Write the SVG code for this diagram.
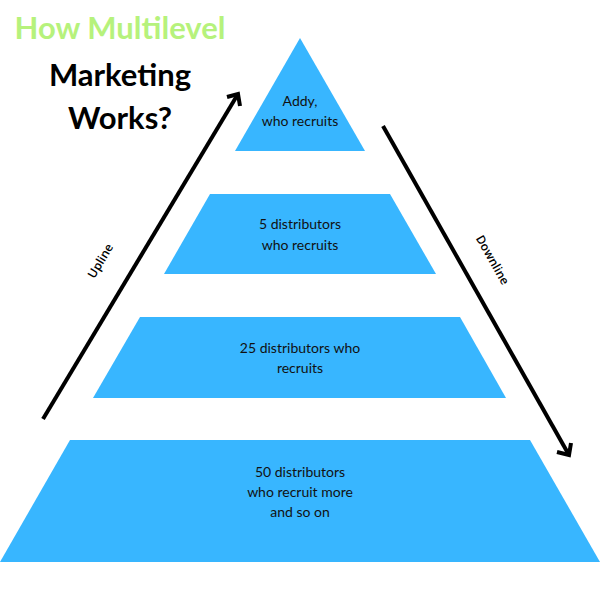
<svg xmlns="http://www.w3.org/2000/svg" width="600" height="600" viewBox="0 0 600 600">
<style>
.tier{fill:#38b6ff}
.lbl{font-family:Lato,"Open Sans",sans-serif;font-size:14px;fill:#111;text-anchor:middle}
.ttl{font-family:Lato,"Open Sans",sans-serif;font-weight:bold;font-size:31px;text-anchor:middle}
.ax{stroke:#000;stroke-width:4;fill:none;stroke-linecap:butt}
.axl{font-family:"Open Sans",sans-serif;font-weight:600;font-size:12px;fill:#000;text-anchor:middle}
</style>
<rect width="600" height="600" fill="#fff"/>
<g id="title">
<text class="ttl" x="120" y="39" fill="#b6f27c">How Multilevel</text>
<text class="ttl" x="120" y="86" fill="#000">Marketing</text>
<text class="ttl" x="120" y="129" fill="#000">Works?</text>
</g>
<g id="tier1">
<polygon class="tier" points="300,38 365,151 235,151"/>
<text class="lbl" x="300" y="106">Addy,</text>
<text class="lbl" x="300" y="126">who recruits</text>
</g>
<g id="tier2">
<polygon class="tier" points="210,194 390,194 436,274 164,274"/>
<text class="lbl" x="300" y="229">5 distributors</text>
<text class="lbl" x="300" y="250">who recruits</text>
</g>
<g id="tier3">
<polygon class="tier" points="140,317 460,317 506,398 93,398"/>
<text class="lbl" x="300" y="353">25 distributors who</text>
<text class="lbl" x="300" y="373">recruits</text>
</g>
<g id="tier4">
<polygon class="tier" points="70,440 530,440 600,562 0,562"/>
<text class="lbl" x="300" y="477">50 distributors</text>
<text class="lbl" x="300" y="497">who recruit more</text>
<text class="lbl" x="300" y="517">and so on</text>
</g>
<g id="connectors">
<line class="ax" x1="43" y1="419" x2="238" y2="94"/>
<polyline class="ax" points="227,97 238,94 240,106"/>
<line class="ax" x1="383" y1="126" x2="569" y2="455"/>
<polyline class="ax" points="557,452 569,455 571,443"/>
<text class="axl" transform="translate(104,263) rotate(-59)">Upline</text>
<text class="axl" transform="translate(489,262) rotate(60.5)">Downline</text>
</g>
</svg>
